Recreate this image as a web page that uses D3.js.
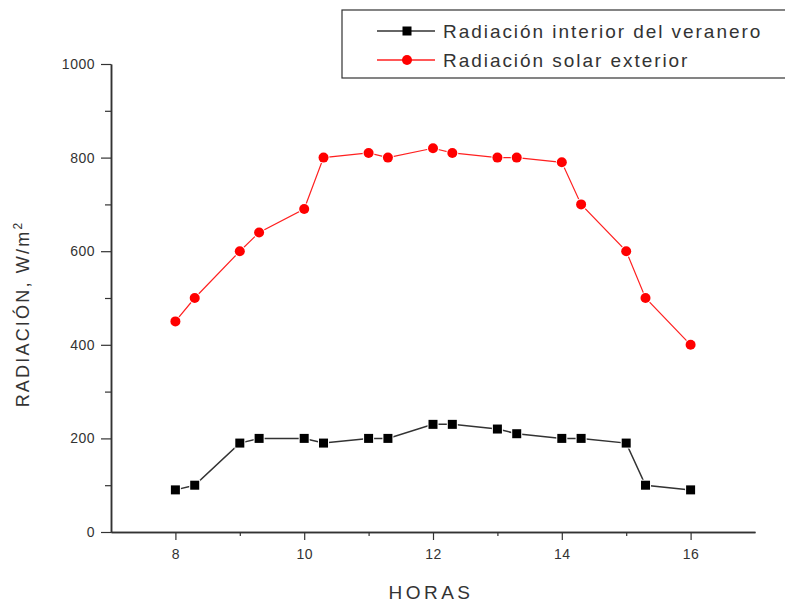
<!DOCTYPE html>
<html>
<head>
<meta charset="utf-8">
<script src="https://cdn.jsdelivr.net/npm/d3@7"></script>
<style>
  body { margin: 0; background: #fff; }
  svg { display: block; font-family: "Liberation Sans", Arial, sans-serif; }
</style>
</head>
<body>
<div id="chart"></div>
<script>
const horas = [8, 8.3, 9, 9.3, 10, 10.3, 11, 11.3, 12, 12.3, 13, 13.3, 14, 14.3, 15, 15.3, 16];
const interior = [90, 100, 190, 200, 200, 190, 200, 200, 230, 230, 220, 210, 200, 200, 190, 100, 90];
const exterior = [450, 500, 600, 640, 690, 800, 810, 800, 820, 810, 800, 800, 790, 700, 600, 500, 400];
const xTicks = [8, 10, 12, 14, 16];
const xMinor = [9, 11, 13, 15];
const yTicks = [0, 200, 400, 600, 800, 1000];
const yMinor = [100, 300, 500, 700, 900];
const seriesNames = ['Radiación interior del veranero', 'Radiación solar exterior'];

const width = 785, height = 603;
const margin = { top: 64, right: 30, bottom: 71, left: 111 };
const w = width - margin.left - margin.right;
const h = height - margin.top - margin.bottom;

const svg = d3.select('#chart').append('svg')
  .attr('width', width)
  .attr('height', height);

const g = svg.append('g')
  .attr('transform', 'translate(' + margin.left + ',' + margin.top + ')');

const x = d3.scaleLinear().domain([7, 17]).range([0, w]);
const y = d3.scaleLinear().domain([0, 1000]).range([h, 0]);

// axes
g.append('g')
  .attr('transform', 'translate(0,' + h + ')')
  .call(d3.axisBottom(x).tickValues(xTicks).tickSize(8).tickPadding(9).tickSizeOuter(0));
g.append('g')
  .attr('transform', 'translate(0,' + h + ')')
  .call(d3.axisBottom(x).tickValues(xMinor).tickSize(4).tickFormat('').tickSizeOuter(0));

g.append('g')
  .call(d3.axisLeft(y).tickValues(yTicks).tickSize(10).tickPadding(6).tickSizeOuter(0)
    .tickFormat(d3.format('d')));
g.append('g')
  .call(d3.axisLeft(y).tickValues(yMinor).tickSize(6).tickFormat('').tickSizeOuter(0));

g.selectAll('.domain').style('stroke', '#333').style('stroke-width', 1.5);
g.selectAll('.tick line').style('stroke', '#333').style('stroke-width', 1.2);
g.selectAll('.tick text')
  .style('font-size', '14px')
  .style('fill', '#333')
  .style('letter-spacing', '0.5px');

// lines
const line = d3.line()
  .x((d, i) => x(horas[i]))
  .y(d => y(d));

g.append('path')
  .datum(exterior)
  .attr('fill', 'none')
  .attr('stroke', '#ff2020')
  .attr('stroke-width', 1.2)
  .attr('d', line);

g.append('path')
  .datum(interior)
  .attr('fill', 'none')
  .attr('stroke', '#333')
  .attr('stroke-width', 1.5)
  .attr('d', line);

g.selectAll('.pt-ext')
  .data(exterior)
  .enter().append('circle')
  .attr('cx', (d, i) => x(horas[i]))
  .attr('cy', d => y(d))
  .attr('r', 5)
  .attr('fill', '#ff0000')
  .attr('stroke', '#fff')
  .attr('stroke-width', 2)
  .attr('paint-order', 'stroke');

g.selectAll('.pt-int')
  .data(interior)
  .enter().append('rect')
  .attr('x', (d, i) => x(horas[i]) - 4.5)
  .attr('y', d => y(d) - 4.5)
  .attr('width', 9)
  .attr('height', 9)
  .attr('fill', '#000')
  .attr('stroke', '#fff')
  .attr('stroke-width', 2)
  .attr('paint-order', 'stroke');

// axis titles
svg.append('text')
  .attr('x', 431)
  .attr('y', 599)
  .attr('text-anchor', 'middle')
  .style('font-size', '19px')
  .style('letter-spacing', '3.5px')
  .style('fill', '#333')
  .text('HORAS');

const yl = svg.append('text')
  .attr('transform', 'translate(29,' + 314 + ') rotate(-90)')
  .attr('text-anchor', 'middle')
  .style('font-size', '18px')
  .style('letter-spacing', '2.2px')
  .style('fill', '#333');
yl.append('tspan').text('RADIACIÓN, W/m');
yl.append('tspan').attr('dy', -7).style('font-size', '12px').text('2');

// legend
const legend = svg.append('g');
legend.append('rect')
  .attr('x', 342)
  .attr('y', 10)
  .attr('width', 460)
  .attr('height', 68)
  .attr('fill', '#fff')
  .attr('stroke', '#333')
  .attr('stroke-width', 1.2);

const items = legend.selectAll('.item')
  .data(seriesNames)
  .enter().append('g')
  .attr('transform', (d, i) => 'translate(0,' + (31 + i * 29) + ')');

items.append('line')
  .attr('x1', 377).attr('x2', 435)
  .attr('stroke', (d, i) => i === 0 ? '#333' : '#ff2020')
  .attr('stroke-width', 1.5);

items.each(function(d, i) {
  const it = d3.select(this);
  if (i === 0) {
    it.append('rect').attr('x', 407 - 4.5).attr('y', -4.5).attr('width', 9).attr('height', 9).attr('fill', '#000');
  } else {
    it.append('circle').attr('cx', 407).attr('cy', 0).attr('r', 5).attr('fill', '#ff0000');
  }
});

items.append('text')
  .attr('x', 443)
  .attr('y', 7)
  .style('font-size', '19px')
  .style('letter-spacing', '1.95px')
  .style('fill', '#333')
  .text(d => d);
</script>
</body>
</html>
